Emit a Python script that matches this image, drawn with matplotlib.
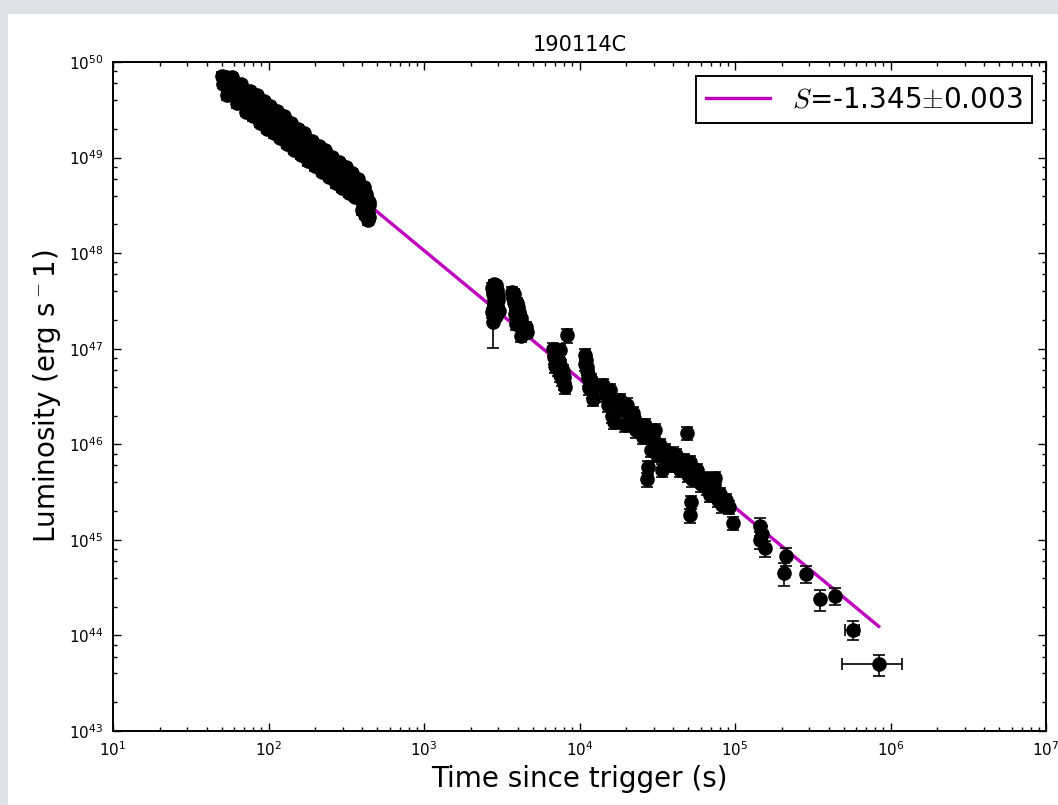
import numpy as np
import matplotlib
matplotlib.use('Agg')
import matplotlib.pyplot as plt
from matplotlib.ticker import LogLocator, NullFormatter
from matplotlib.patches import Rectangle

plt.rcParams['font.family'] = ['DejaVu Sans']
plt.rcParams['mathtext.fontset'] = 'cm'

title = '190114C'
xlabel = 'Time since trigger (s)'
ylabel = 'Luminosity (erg s$^-$1)'
fit_slope = -1.345
fit_slope_err = 0.003
fit_log_norm = 52.063

# cluster 1 (early steep decay)
t1 = [50, 51, 53, 55, 57, 59, 62, 65, 68, 71, 74, 78, 82, 86, 90, 95, 100, 105, 110, 116,
      122, 128, 135, 142, 150, 158, 166, 175, 184, 194, 204, 215, 226, 238, 250, 263, 277,
      291, 306, 322, 338, 355, 372, 385, 395, 405, 412, 420, 428, 435, 440, 445,
      54, 58, 63, 67, 72, 76, 80, 84, 88, 93, 98, 103, 108, 113, 119, 125, 132, 139, 146,
      154, 162, 170, 180, 190, 200, 210, 220, 232, 244, 256, 270, 284, 298, 314, 330, 346,
      362, 378, 392, 402, 410, 418, 425, 432, 438, 442]
L1 = [7.2e49, 5.9e49, 6.9e49, 5.0e49, 5.9e49, 4.8e49, 5.5e49, 4.1e49, 5.0e49, 3.9e49,
      4.7e49, 3.1e49, 3.7e49, 3.1e49, 3.7e49, 2.5e49, 2.9e49, 2.0e49, 2.7e49, 2.0e49,
      2.3e49, 1.65e49, 1.95e49, 1.5e49, 1.8e49, 1.35e49, 1.6e49, 1.12e49, 1.32e49, 1.05e49,
      1.2e49, 8.3e48, 1.0e49, 7.6e48, 8.9e48, 6.9e48, 8.1e48, 5.7e48, 6.6e48, 5.1e48,
      6.3e48, 4.8e48, 5.4e48, 3.8e48, 4.8e48, 3.4e48, 4.4e48, 3.0e48, 3.7e48, 2.6e48,
      3.2e48, 2.4e48,
      4.5e49, 6.9e49, 3.7e49, 5.9e49, 3.0e49, 5.0e49, 2.7e49, 4.5e49, 2.3e49, 3.9e49,
      2.0e49, 3.5e49, 1.8e49, 3.1e49, 1.6e49, 2.7e49, 1.4e49, 2.3e49, 1.2e49, 2.0e49,
      1.07e49, 1.8e49, 9.1e48, 1.5e49, 8.1e48, 1.32e49, 7.1e48, 1.2e49, 6.3e48, 1.02e49,
      5.4e48, 8.9e48, 4.8e48, 7.9e48, 4.3e48, 6.9e48, 3.9e48, 6.0e48, 5.0e48, 2.8e48,
      4.9e48, 2.5e48, 4.2e48, 2.8e48, 2.2e48, 3.4e48]
err1 = 0.10

t2 = [2720, 2750, 2780, 2800, 2820, 2850, 2870, 2890, 2910, 2940, 2960, 2990, 3020, 2760,
      2830, 2900, 2970]
L2 = [4.3e47, 2.4e47, 3.7e47, 4.7e47, 2.9e47, 3.4e47, 4.5e47, 2.2e47, 3.9e47, 2.7e47,
      4.1e47, 3.2e47, 2.5e47, 1.9e47, 3.0e47, 4.6e47, 3.6e47]
err2 = [0.12, 0.12, 0.12, 0.12, 0.12, 0.12, 0.12, 0.12, 0.12, 0.12, 0.12, 0.12, 0.12, 0.46,
        0.12, 0.12, 0.12]

t3 = [3700, 3750, 3800, 3850, 3800, 3900, 3950, 3850, 4000, 4050, 4100, 3900, 4200, 4300,
      4000, 4400, 4500, 4200, 4600]
L3 = [3.9e47, 3.4e47, 3.7e47, 2.9e47, 3.2e47, 2.6e47, 3.0e47, 2.3e47, 2.7e47, 2.0e47,
      2.4e47, 1.8e47, 2.1e47, 1.6e47, 1.9e47, 1.45e47, 1.7e47, 1.35e47, 1.5e47]
err3 = 0.13

t4 = [6800, 6900, 7000, 7100, 7200, 7300, 7400, 7500, 7600, 7700, 8300, 7800, 7900, 8000,
      8100, 7000, 7500]
L4 = [1.0e47, 8.2e46, 9.3e46, 7.0e46, 8.6e46, 6.1e46, 7.4e46, 5.3e46, 6.5e46, 4.8e46,
      1.38e47, 5.8e46, 4.4e46, 5.1e46, 4.0e46, 6.6e46, 9.6e46]
err4 = 0.16

t5 = [10800, 10900, 11000, 11100, 11200, 11300, 11400, 11600, 11800, 12000, 12200, 11500]
L5 = [8.5e46, 6.9e46, 7.7e46, 5.8e46, 6.4e46, 4.9e46, 5.5e46, 4.2e46, 4.7e46, 3.6e46,
      3.0e46, 3.9e46]
err5 = 0.16

t6 = [1.42e4, 1.48e4, 1.52e4, 1.57e4, 1.62e4, 1.69e4, 1.67e4, 1.82e4, 1.91e4, 2.02e4,
      2.11e4, 2.21e4, 2.31e4, 2.45e4, 1.96e4, 2.64e4, 2.76e4, 2.70e4, 2.84e4, 3.06e4,
      3.30e4, 3.55e4, 3.71e4, 3.40e4, 3.94e4, 2.90e4, 3.15e4, 4.91e4, 4.18e4, 4.43e4,
      4.70e4, 4.99e4, 5.29e4, 5.70e4, 6.04e4, 5.14e4, 5.20e4, 5.14e4, 6.20e4, 6.52e4,
      6.90e4, 7.33e4, 7.78e4, 8.25e4, 8.75e4, 9.15e4, 9.70e4, 7.43e4,
      2.25e4, 2.55e4, 3.00e4, 3.60e4, 4.00e4, 4.50e4, 5.50e4, 6.60e4, 8.00e4]
L6 = [4.2e46, 3.3e46, 2.6e46, 3.7e46, 2.0e46, 2.9e46, 1.7e46, 2.9e46, 2.3e46, 2.6e46,
      1.8e46, 2.1e46, 1.4e46, 1.6e46, 1.6e46, 1.6e46, 5.8e45, 4.3e45, 1.26e46, 1.4e46,
      9.8e45, 8.7e45, 6.9e45, 5.4e45, 6.1e45, 8.7e45, 7.7e45, 1.32e46, 7.7e45, 5.4e45,
      6.9e45, 4.8e45, 4.3e45, 5.4e45, 3.8e45, 6.5e45, 2.5e45, 1.8e45, 4.4e45, 4.3e45,
      2.95e45, 3.8e45, 2.6e45, 2.3e45, 2.6e45, 2.2e45, 1.5e45, 4.4e45,
      1.9e46, 1.2e46, 1.1e46, 7.5e45, 8.0e45, 6.5e45, 4.8e45, 3.5e45, 3.0e45]
err6 = 0.16

# late sparse points
t7 = [1.45e5, 1.50e5, 1.45e5, 1.55e5, 2.13e5, 2.07e5, 2.86e5, 3.5e5, 4.4e5, 5.7e5, 8.4e5]
L7 = [1.4e45, 1.15e45, 1.0e45, 8.2e44, 6.8e44, 4.5e44, 4.4e44, 2.4e44, 2.6e44, 1.15e44, 5.0e43]
err7 = [0.22, 0.2, 0.2, 0.2, 0.22, 0.27, 0.2, 0.25, 0.2, 0.22, 0.24]
xerr7 = [0, 0, 0, 0, 0, 0, 0, 0, 0, 0.6e5, 3.5e5]

fig = plt.figure(figsize=(10.58, 8.05), dpi=100, facecolor='#dfe3e9')
bg = Rectangle((8 / 1058, 0), 1.0, 1 - 14 / 805, transform=fig.transFigure,
               facecolor='white', edgecolor='none', zorder=-10)
fig.patches.append(bg)
ax = fig.add_axes([113 / 1058, 1 - 731 / 805, (1046 - 113) / 1058, (731 - 62) / 805])
ax.set_zorder(5)

t_all = np.array(t1 + t2 + t3 + t4 + t5 + t6 + t7, dtype=float)
tfit = np.logspace(np.log10(t_all.min()), np.log10(t_all.max()), 100)
Lfit = 10 ** (fit_log_norm + fit_slope * np.log10(tfit))
ax.plot(tfit, Lfit, color=(0.75, 0, 0.75), lw=2.4, zorder=1,
        label=r'$S$=-1.345$\pm$0.003')

groups = [(t1, L1, err1), (t2, L2, err2), (t3, L3, err3), (t4, L4, err4),
          (t5, L5, err5), (t6, L6, err6)]
for t, L, e in groups:
    t = np.array(t, float)
    L = np.array(L, float)
    e = np.array(e, float) * np.ones_like(L)
    ax.errorbar(t, L, yerr=e * L, fmt='o', color='k', ms=9.5, ecolor='k',
                elinewidth=1.2, capsize=4.5, capthick=1.2, zorder=3)
t = np.array(t7, float); L = np.array(L7, float)
ax.errorbar(t, L, yerr=np.array(err7) * L, xerr=np.array(xerr7), fmt='o', color='k', ms=9.5,
            ecolor='k', elinewidth=1.2, capsize=4.5, capthick=1.2, zorder=3)

ax.set_xscale('log')
ax.set_yscale('log')
ax.set_xlim(1e1, 1e7)
ax.set_ylim(1e43, 1e50)
ax.xaxis.set_major_locator(LogLocator(base=10, numticks=20))
ax.yaxis.set_major_locator(LogLocator(base=10, numticks=20))
ax.xaxis.set_minor_locator(LogLocator(base=10, subs=np.arange(2, 10), numticks=20))
ax.yaxis.set_minor_locator(LogLocator(base=10, subs=[2, 4, 6, 8], numticks=20))
ax.xaxis.set_minor_formatter(NullFormatter())
ax.yaxis.set_minor_formatter(NullFormatter())
ax.tick_params(which='both', direction='in', top=True, right=True, labelsize=11, width=1)
ax.tick_params(which='major', length=6, pad=7)
ax.tick_params(which='minor', length=3)
for s in ax.spines.values():
    s.set_linewidth(1.4)

ax.set_title(title, fontsize=15, pad=8)
ax.set_xlabel(xlabel, fontsize=20)
ax.set_ylabel(ylabel, fontsize=20)

leg = ax.legend(loc='upper right', fontsize=20, fancybox=False, framealpha=1,
                edgecolor='k', handlelength=2.3, borderpad=0.35, borderaxespad=0.5)
leg.get_frame().set_linewidth(1.4)

fig.savefig('out.png', dpi=100, facecolor=fig.get_facecolor())
